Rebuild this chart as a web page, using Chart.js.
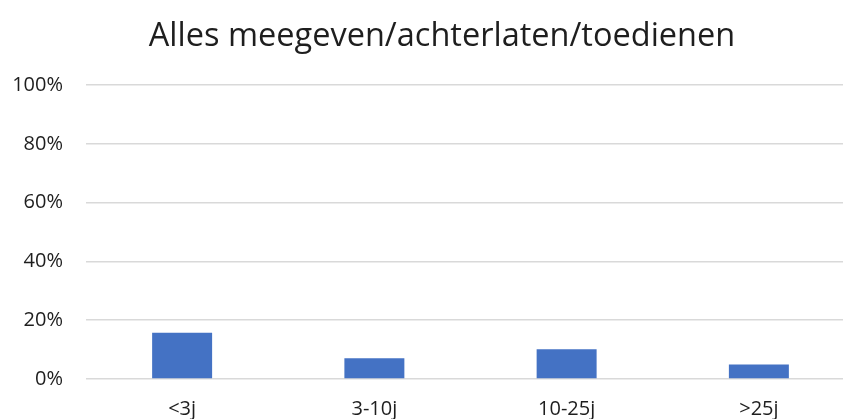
<!DOCTYPE html>
<html>
<head>
<meta charset="utf-8">
<script src="https://cdn.jsdelivr.net/npm/chart.js@4.4.1/dist/chart.umd.min.js"></script>
<style>
  html, body { margin: 0; padding: 0; background: #ffffff; }
  #wrap { width: 843px; height: 419px; overflow: hidden; position: relative; }
  #box { width: 884px; height: 419px; position: absolute; left: 0; top: 0; }
</style>
</head>
<body>
<div id="wrap"><div id="box"><canvas id="chart"></canvas></div></div>
<script>
// Share of respondents per age group (percent)
const chartTitle = 'Alles meegeven/achterlaten/toedienen';
const categories = ['<3j', '3-10j', '10-25j', '>25j'];
const shares = [15.7, 7.1, 10.1, 4.9];
const yTicks = [0, 20, 40, 60, 80, 100];

const FONT = '"Open Sans", Lato, sans-serif';
const TEXT = '#1e1e1e';
const GRID = '#d9d9d9';

new Chart(document.getElementById('chart'), {
  type: 'bar',
  data: {
    labels: categories,
    datasets: [{
      data: shares,
      backgroundColor: '#4472C4',
      borderWidth: 0,
      categoryPercentage: 1,
      barPercentage: 0.312
    }]
  },
  options: {
    responsive: true,
    maintainAspectRatio: false,
    animation: false,
    devicePixelRatio: 1,
    layout: { padding: 0 },
    plugins: {
      legend: { display: false },
      tooltip: { enabled: false },
      title: {
        display: true,
        text: chartTitle,
        color: TEXT,
        font: { family: FONT, size: 32.5, weight: 'normal' },
        padding: { top: 17, bottom: 29 }
      }
    },
    scales: {
      x: {
        grid: { display: false, drawTicks: false },
        border: { display: false },
        ticks: { color: TEXT, font: { family: FONT, size: 20 }, padding: 18, maxRotation: 0 },
        // keep a right margin beside the plot; the title stays centred on the full canvas
        afterFit: (scale) => { scale.height = 40; scale.paddingRight = 29; scale.paddingLeft = 0; }
      },
      y: {
        min: 0,
        max: 100,
        afterBuildTicks: (scale) => { scale.ticks = yTicks.map(v => ({ value: v })); },
        grid: { color: GRID, lineWidth: 1.5, drawTicks: false },
        border: { display: false },
        ticks: {
          color: TEXT,
          font: { family: FONT, size: 20 },
          padding: 23,
          callback: (v) => v + '%'
        },
        afterFit: (scale) => { scale.width = 86; }
      }
    }
  }
});
</script>
</body>
</html>
